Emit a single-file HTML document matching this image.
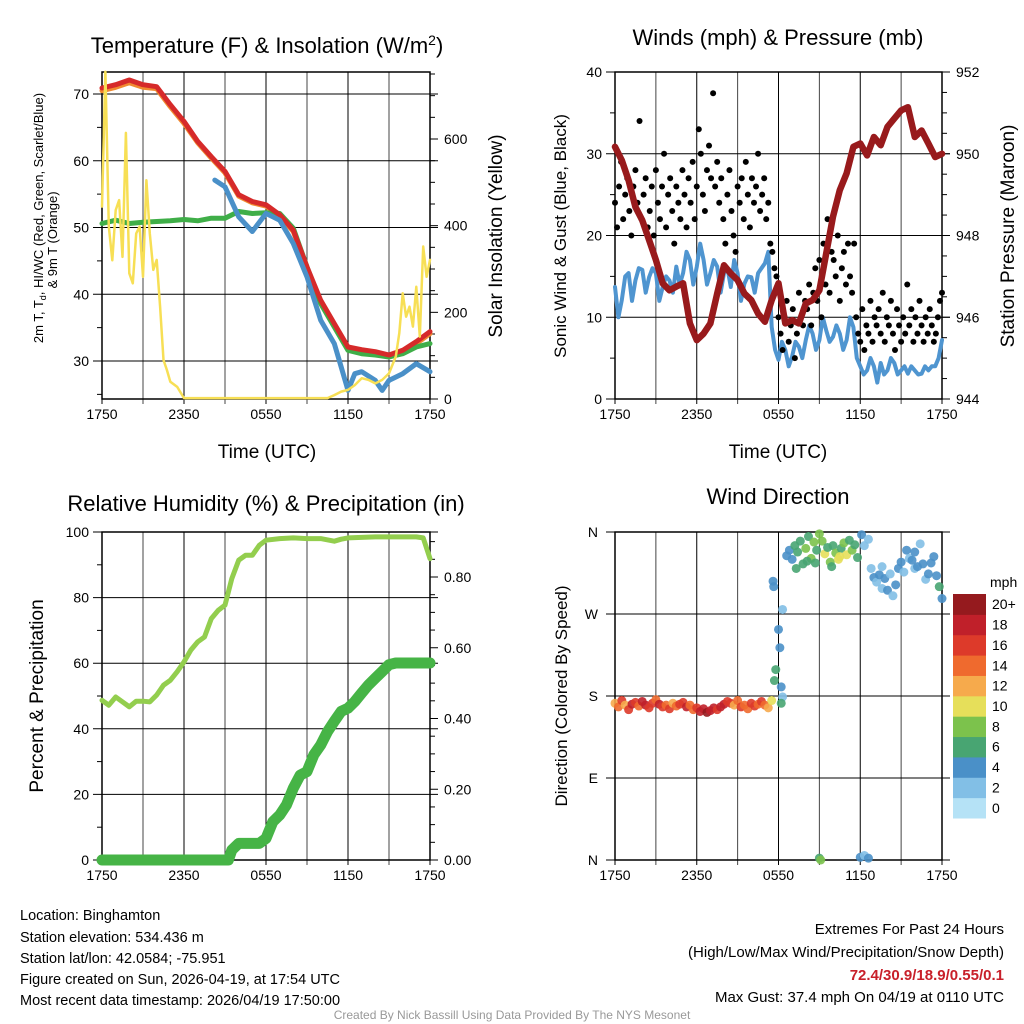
<!DOCTYPE html>
<html><head><meta charset="utf-8"><style>
html,body{margin:0;padding:0;background:#fff;}
svg{display:block;font-family:"Liberation Sans",Arial,sans-serif;}
</style></head><body>
<svg id="c" width="1024" height="1024" viewBox="0 0 1024 1024" xmlns="http://www.w3.org/2000/svg">
<rect width="1024" height="1024" fill="#fff"/>
<text x="267" y="53" font-size="22" text-anchor="middle">Temperature (F) &amp; Insolation (W/m<tspan dy="-8" font-size="14">2</tspan><tspan dy="8">)</tspan></text>
<text x="778" y="45" font-size="22" text-anchor="middle">Winds (mph) &amp; Pressure (mb)</text>
<text x="266" y="511" font-size="22" text-anchor="middle">Relative Humidity (%) &amp; Precipitation (in)</text>
<text x="778" y="504" font-size="22" text-anchor="middle">Wind Direction</text>

<text transform="translate(43,218) rotate(-90)" font-size="13" text-anchor="middle">2m T, T<tspan font-size="9" dy="3">d</tspan><tspan dy="-3">, HI/WC (Red, Green, Scarlet/Blue)</tspan></text>
<text transform="translate(57,240) rotate(-90)" font-size="13" text-anchor="middle">&amp; 9m T (Orange)</text>
<text transform="translate(502,236) rotate(-90)" font-size="19" text-anchor="middle">Solar Insolation (Yellow)</text>
<text x="267" y="458" font-size="19" text-anchor="middle">Time (UTC)</text>
<text transform="translate(566,236) rotate(-90)" font-size="17" text-anchor="middle">Sonic Wind &amp; Gust (Blue, Black)</text>
<text transform="translate(1014,236) rotate(-90)" font-size="19" text-anchor="middle">Station Pressure (Maroon)</text>
<text x="778" y="458" font-size="19" text-anchor="middle">Time (UTC)</text>
<text transform="translate(43,696) rotate(-90)" font-size="19" text-anchor="middle">Percent &amp; Precipitation</text>
<text transform="translate(567,696) rotate(-90)" font-size="17" text-anchor="middle">Direction (Colored By Speed)</text>

<g font-size="14.5">
<text x="20" y="920">Location: Binghamton</text>
<text x="20" y="942">Station elevation: 534.436 m</text>
<text x="20" y="963">Station lat/lon: 42.0584; -75.951</text>
<text x="20" y="984">Figure created on Sun, 2026-04-19, at 17:54 UTC</text>
<text x="20" y="1005">Most recent data timestamp: 2026/04/19 17:50:00</text>
</g>
<g font-size="15" text-anchor="end">
<text x="1004" y="934">Extremes For Past 24 Hours</text>
<text x="1004" y="957">(High/Low/Max Wind/Precipitation/Snow Depth)</text>
<text x="1004" y="980" fill="#c8202a" font-weight="bold">72.4/30.9/18.9/0.55/0.1</text>
<text x="1004" y="1002">Max Gust: 37.4 mph On 04/19 at 0110 UTC</text>
</g>
<text x="512" y="1019" font-size="12" fill="#999" text-anchor="middle">Created By Nick Bassill Using Data Provided By The NYS Mesonet</text>
<g id="plots"></g>
</svg>
<script>
// ---- Data (hours since 1750 UTC) ----
const timeTicks = ["1750","2350","0550","1150","1750"];
const tempHours = [0,1,2,3,4,5,6,7,8,9,10,11,12,13,14,15,16,17,18,19,20,21,22,23,24];
const tempRed = [70.9,71.4,72.1,71.4,71.1,68.4,65.9,62.9,60.6,58.4,54.9,53.9,53.4,51.9,49.6,44.1,39.1,35.6,32.1,31.7,31.4,30.9,31.6,32.9,34.4];
const tempOrange = [70.5,71.0,71.7,71.0,70.8,68.1,65.6,62.7,60.4,58.2,54.7,53.7,53.2,51.7,49.4,43.9,38.9,35.4,31.9,31.5,31.2,30.7,31.4,32.6,34.1];
const tempGreen = [50.6,51.1,50.6,50.8,50.9,51.0,51.2,51.0,51.4,51.4,52.4,52.1,52.2,52.1,49.9,44.1,38.6,35.1,31.6,31.1,30.9,30.6,31.1,32.1,32.6];
const blueHours = [8.25,9,10,11,12,12.5,13,14,15,16,17,17.5,18,18.5,19,20,20.5,21,22,23,24];
const tempBlue = [57.1,56.1,51.6,49.4,52.1,51.6,51.1,47.6,42.6,36.1,32.6,29.1,25.6,28.1,28.4,27.1,25.6,27.1,28.1,29.6,28.4];
const insolHours = [0,0.25,0.5,0.75,1,1.25,1.5,1.75,2,2.25,2.5,2.75,3,3.25,3.5,3.75,4,4.25,4.5,4.75,5,5.5,6,16.5,17,17.5,18,18.5,19,19.5,20,20.5,21,21.5,21.75,22,22.25,22.5,22.75,23,23.25,23.5,23.75,24];
const insolValues = [444,755,398,320,436,459,328,614,290,267,382,398,282,505,382,298,321,213,90,67,40,28,2,2,9,17,21,32,48,44,36,44,59,98,152,244,190,213,167,259,144,352,282,321];

const pressHours = [0,0.5,1,1.5,2,2.5,3,3.5,4,4.5,5,5.5,6,6.5,7,7.5,8,8.5,9,9.5,10,10.5,11,11.5,12,12.5,13,13.5,14,14.5,15,15.5,16,16.5,17,17.5,18,18.5,19,19.5,20,20.5,21,21.5,22,22.5,23,23.5,24];
const pressValues = [950.17,949.84,949.35,948.7,948.37,947.89,947.4,946.83,946.66,946.75,946.83,945.85,945.44,945.6,945.85,946.58,947.27,947.07,946.91,946.58,946.42,946.09,945.89,946.42,946.83,945.85,945.93,945.85,946.34,946.42,946.66,947.56,948.46,949.11,949.52,950.17,950.25,949.96,950.41,950.21,950.66,950.86,951.06,951.14,950.41,950.57,950.25,949.92,950.0];
const windStep = 0.25;
const windValues = [13.7,10,12.1,15,15.4,12,14.5,16,15.8, 13,14.9,16,15.4,12,13.7,15,14.5, 13,16.2,14,15.4,18,17.0,14,16.2, 19,17.0,14,15.4,17,16.2,13,15.4, 16,13.7,17,15.4,12,14.1,15,14.9, 13,15.4,16,16.6,18,8.8,6,4.8, 7,6.0,4,5.2,7,6.4,5,7.2, 9,8.0,6,7.2,10,8.4,7,7.6, 9,8.0,6,7.2,10,8.8,5,4.0, 3,3.5,5,4.0,2,4.4,3,3.5, 5,4.4,3,3.5,4,3.1,4,3.5, 3,3.1,4,3.5,4,4.0,5,7.2];
const gustStep = 0.15;
const gustValues = [24,21,26,29,22,25,27,23,20,26,28,24,34,22,25,27,21,23,26,20,28,24,22,26,30,21,25,27,23,19,26,24,22,28,25,21,27,24,29,22,26,33,30,25,23,28,31,27,37.4,26,29,24,27,22,19,25,28,23,20,18,26,24,27,22,29,25,21,27,24,26,30,23,25,27,22,24,19,
18,16,15,10,
8,6,10,12,7,9,11,5,8,13,10,9,12,
11,14,9,13,16,12,17,10,19,14,22,13,18,17,15,20,12,16,18,14,19,15,13,19,
10,8,7,11,6,9,8,12,7,10,9,11,8,13,7,10,9,12,8,6,11,9,7,10,8,14,9,11,7,10,8,12,9,7,10,8,11,9,7,8,10,12,13];

const rhHours = [0,0.5,1,1.5,2,2.5,3,3.5,4,4.5,5,5.5,6,6.5,7,7.5,8,8.5,9,9.5,10,10.5,11,11.5,12,13,14,15,16,17,17.5,18,20,22,23,23.5,24];
const rhValues = [48.7,47.2,49.7,48.2,46.7,48.4,48.4,48.2,50.3,53.3,54.8,57.4,60.4,64.0,66.5,68.0,73.6,76.1,77.7,85.8,91.4,92.9,92.9,95.9,97.5,98.0,98.2,98.0,98.0,97.2,97.8,98.2,98.5,98.5,98.5,98.2,91.9];
const precipHours = [0,9.25,9.5,10,11.5,12,12.5,13,13.5,14,14.5,15,15.5,16,16.5,17,17.5,18,18.5,19,19.5,20,20.5,21,21.5,24];
const precipValues = [0,0,0.028,0.047,0.047,0.061,0.108,0.127,0.156,0.203,0.24,0.25,0.297,0.325,0.363,0.392,0.42,0.429,0.448,0.472,0.495,0.514,0.533,0.552,0.557,0.557];

const dirHours = [0,0.25,0.5,0.75,1,1.25,1.5,1.75,2,2.25,2.5,2.75,3,3.25,3.5,3.75,4,4.25,4.5,4.75,5,5.25,5.5,5.75,6,6.25,6.5,6.75,7,7.25,7.5,7.75,8,8.25,8.5,8.75,9,9.25,9.5,9.75,10,10.25,10.5,10.75,11,11.25,11.5,
11.6,11.65,12.3,12.0,12.1,11.8,11.7,12.2,12.3,12.2,
12.6,12.8,13.0,13.2,13.4,13.6,13.8,14.0,14.2,14.4,14.6,14.8,15.0,15.2,15.4,15.6,15.8,16.0,16.2,16.4,16.6,16.8,17.0,17.2,17.4,17.6,17.8,14.1,13.3,14.7,15.9,16.5,
15.0,15.1,18.0,18.3,18.6,
18.1,18.3,18.6,18.8,19.0,19.2,19.4,19.6,19.8,20.0,20.2,20.4,20.6,20.8,21.0,21.2,21.4,21.6,21.8,22.0,22.2,22.4,22.6,22.8,23.0,23.2,23.4,23.6,23.8,24.0,22.0,19.6];
const dirValues = [172,168,175,170,165,171,173,169,174,170,167,172,176,171,168,170,166,172,169,171,173,168,170,165,167,163,166,162,164,167,165,168,171,174,172,170,175,168,170,166,172,169,171,174,170,167,175,
306,300,275,253,233,209,197,190,179,172,
334,340,330,345,338,350,325,342,355,331,349,340,358,350,336,343,327,345,337,330,342,348,335,351,340,346,332,328,320,326,322,333,
2,0,3,5,2,
357,345,352,320,310,305,313,298,309,296,314,290,302,320,327,316,340,331,329,320,322,347,325,308,314,326,333,312,300,287,338,322];
const dirSpeeds = [11,14,16,12,15,17,16,14,18,17,15,16,13,17,15,14,16,12,14,16,15,17,13,14,16,18,17,19,18,17,16,18,17,15,16,12,13,15,14,13,15,16,14,15,13,11,10,
4,4,2,4,4,6,6,4,2,6,
4,4,4,6,6,6,6,8,6,8,8,6,8,8,10,6,8,6,8,10,6,8,10,6,8,6,6,6,6,6,6,10,
6,8,4,2,4,
4,2,2,2,4,2,4,2,4,4,2,2,4,4,4,2,4,2,4,2,4,2,4,2,4,4,4,4,6,4,4,2];
const speedLabels = ["0","2","4","6","8","10","12","14","16","18","20+"];
const speedColors = ["#b5e2f6","#82bfe6","#4a90c8","#48a572","#7cc24c","#e6df5a","#f6aa4c","#ef6a2e","#dd3a2a","#c0202a","#951a1e"];

// ---- helpers ----
const NS = "http://www.w3.org/2000/svg";
const root = document.getElementById('plots');
function mk(tag, attrs, parent) {
  const e = document.createElementNS(NS, tag);
  for (const k in attrs) e.setAttribute(k, attrs[k]);
  (parent || root).appendChild(e);
  return e;
}
function xs(P, h) { return P.x0 + h / 24 * (P.x1 - P.x0); }
function lin(v, v0, v1, y0, y1) { return y0 + (v - v0) / (v1 - v0) * (y1 - y0); }
function path(P, hours, vals, yf) {
  let d = "", pen = false;
  for (let i = 0; i < hours.length; i++) {
    if (vals[i] === null) { pen = false; continue; }
    d += (pen ? "L" : "M") + xs(P, hours[i]).toFixed(1) + "," + yf(vals[i]).toFixed(1);
    pen = true;
  }
  return d;
}
function frame(P, name) {
  const g = mk('g', {});
  
  
  for (let k = 0; k <= 8; k++) {
    const x = P.x0 + k * (P.x1 - P.x0) / 8;
    mk('line', {x1: x, y1: P.yT, x2: x, y2: P.yB + 5, stroke: k % 2 ? '#444' : '#000', 'stroke-width': 1}, g);
  }
  P.hgrid.forEach(y => mk('line', {x1: P.x0 - 9, y1: y, x2: P.x1 + 8, y2: y, stroke: '#000', 'stroke-width': 1}, g));
  (P.minorL || []).forEach(y => mk('line', {x1: P.x0 - 5, y1: y, x2: P.x0, y2: y, stroke: '#000', 'stroke-width': 1}, g));
  (P.minorR || []).forEach(y => mk('line', {x1: P.x1, y1: y, x2: P.x1 + 5, y2: y, stroke: '#000', 'stroke-width': 1}, g));
  (P.majorR || []).forEach(y => mk('line', {x1: P.x1, y1: y, x2: P.x1 + 8, y2: y, stroke: '#000', 'stroke-width': 1}, g));
  const fr = mk('rect', {x: P.x0, y: P.yT, width: P.x1 - P.x0, height: P.yB - P.yT, fill: 'none', stroke: '#000', 'stroke-width': 1.5}, g);
  
  
  const tg = mk('g', {'font-size': 14, 'text-anchor': 'middle'});
  
  
  timeTicks.forEach((t, i) => { const e = mk('text', {x: xs(P, i * 6), y: P.yB + 20}, tg); e.textContent = t; });
}
function yLabels(P, vals, yf, side, name, fmt) {
  const g = mk('g', {'font-size': 14, 'text-anchor': side === 'L' ? 'end' : 'start'});
  
  
  vals.forEach(v => {
    const e = mk('text', {x: side === 'L' ? P.x0 - 13 : P.x1 + 14, y: yf(v) + 5}, g);
    e.textContent = fmt ? fmt(v) : v;
  });
}
function line(P, hours, vals, yf, color, w, name) {
  const e = mk('path', {d: path(P, hours, vals, yf), fill: 'none', stroke: color, 'stroke-width': w, 'stroke-linejoin': 'round', 'stroke-linecap': 'round'});
  
  
}
function range(a, b, s) { const r = []; for (let v = a; v <= b + 1e-9; v += s) r.push(v); return r; }

// ---- Panel 1 ----
const P1 = {x0: 102, x1: 430, yT: 72, yB: 399};
const t1 = v => lin(v, 70, 30, 94, 361);
const s1 = v => lin(v, 0, 600, 399, 139);
P1.hgrid = [70, 60, 50, 40, 30].map(t1);
P1.minorL = [65, 55, 45, 35, 25].map(t1);
P1.majorR = [0, 200, 400, 600].map(s1);
P1.minorR = [50,100,150,250,300,350,450,500,550,650,700,750].map(s1);
frame(P1, 'temperature');
yLabels(P1, [70, 60, 50, 40, 30], t1, 'L', 'temperature-y-tick-labels');
yLabels(P1, [0, 200, 400, 600], s1, 'R', 'insolation-y-tick-labels');
line(P1, tempHours, tempOrange, t1, '#f08a30', 5, 'temp-9m-orange-line');
line(P1, tempHours, tempGreen, t1, '#3fae48', 5, 'dewpoint-green-line');
line(P1, tempHours, tempRed, t1, '#d62a2a', 5, 'temp-2m-red-line');
line(P1, blueHours, tempBlue, t1, '#4a90c8', 5, 'wind-chill-blue-line');
line(P1, insolHours, insolValues, s1, '#f7df55', 2.5, 'insolation-yellow-line');

// ---- Panel 2 ----
const P2 = {x0: 615, x1: 942, yT: 72, yB: 399};
const w2 = v => lin(v, 0, 40, 399, 72);
const p2 = v => lin(v, 944, 952, 399, 72);
P2.hgrid = [40, 30, 20, 10, 0].map(w2);
P2.minorL = [35, 25, 15, 5].map(w2);
P2.majorR = [944, 946, 948, 950, 952].map(p2);
P2.minorR = [944.5,945,945.5,946.5,947,947.5,948.5,949,949.5,950.5,951,951.5].map(p2);
frame(P2, 'winds');
yLabels(P2, [40, 30, 20, 10, 0], w2, 'L', 'wind-y-tick-labels');
yLabels(P2, [952, 950, 948, 946, 944], p2, 'R', 'pressure-y-tick-labels');
const windHours = windValues.map((v, i) => i * windStep);
line(P2, windHours, windValues, w2, '#4f95d0', 4, 'sustained-wind-line');
const gg = mk('g', {});


gustValues.forEach((v, i) => {
  const c = mk('circle', {cx: xs(P2, i * gustStep), cy: w2(v), r: 3, fill: '#000'}, gg);
  
  
});
line(P2, pressHours, pressValues, p2, '#981a1c', 6.5, 'pressure-maroon-line');

// ---- Panel 3 ----
const P3 = {x0: 102, x1: 430, yT: 532, yB: 860};
const r3 = v => lin(v, 0, 100, 860, 532);
const q3 = v => lin(v, 0, 0.8, 860, 577);
P3.hgrid = [100, 80, 60, 40, 20, 0].map(r3);
P3.minorL = [90, 70, 50, 30, 10].map(r3);
P3.majorR = [0, 0.2, 0.4, 0.6, 0.8].map(q3);
P3.minorR = [0.05,0.1,0.15,0.25,0.3,0.35,0.45,0.5,0.55,0.65,0.7,0.75,0.85,0.9].map(q3);
frame(P3, 'humidity');
yLabels(P3, [100, 80, 60, 40, 20, 0], r3, 'L', 'humidity-y-tick-labels');
yLabels(P3, [0, 0.2, 0.4, 0.6, 0.8], q3, 'R', 'precip-y-tick-labels', v => v.toFixed(2));
line(P3, rhHours, rhValues, r3, '#93ce4e', 5, 'relative-humidity-line');
line(P3, precipHours, precipValues, q3, '#46b446', 11, 'precipitation-line');

// ---- Panel 4 ----
const P4 = {x0: 615, x1: 942, yT: 532, yB: 860};
const d4 = v => lin(v, 0, 360, 860, 532);
P4.hgrid = [360, 270, 180, 90, 0].map(d4);
frame(P4, 'wind-direction');
const dl = mk('g', {'font-size': 14, 'text-anchor': 'end'});


[[360,'N'],[270,'W'],[180,'S'],[90,'E'],[0,'N']].forEach(a => { const e = mk('text', {x: 598, y: d4(a[0]) + 5}, dl); e.textContent = a[1]; });
const dg = mk('g', {});


dirValues.forEach((v, i) => {
  const b = Math.max(0, Math.min(10, Math.round(dirSpeeds[i] / 2)));
  const c = mk('circle', {cx: xs(P4, dirHours[i]), cy: d4(v), r: 4.5, fill: speedColors[b], 'fill-opacity': 0.9}, dg);
  
  
});
// colorbar
const cb = mk('g', {});


const cbTop = 594, cbH = 224 / 11;
speedColors.forEach((col, i) => {
  const y = cbTop + (10 - i) * cbH;
  const r = mk('rect', {x: 953, y: y, width: 33, height: cbH + 0.5, fill: col}, cb);
  
  
  const t = mk('text', {x: 992, y: y + cbH / 2 + 5, 'font-size': 14}, cb);
  t.textContent = speedLabels[i];
});
const mph = mk('text', {x: 990, y: 587, 'font-size': 14}, cb);
mph.textContent = 'mph';
</script>
</body></html>
